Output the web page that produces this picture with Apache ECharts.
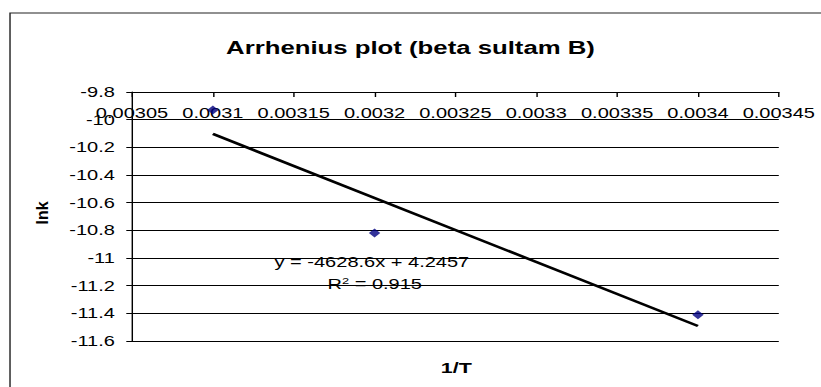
<!DOCTYPE html>
<html>
<head>
<meta charset="utf-8">
<script src="https://cdn.jsdelivr.net/npm/echarts@6/dist/echarts.min.js"></script>
<style>
  html, body { margin: 0; padding: 0; background: #fff; overflow: hidden; }
  #wrap { width: 821px; height: 387px; overflow: hidden; position: relative; }
  /* the chart is laid out narrow and widened, giving the broad lettering */
  #chart { width: 574px; height: 387px; transform: scaleX(1.4303); transform-origin: 0 0; }
</style>
</head>
<body>
<div id="wrap"><div id="chart"></div></div>
<script>
// measurements: reciprocal temperature and ln k
const invT = [0.0031, 0.0032, 0.0034];
const lnk = [-9.93, -10.82, -11.41];

// linear fit shown on the chart
const fitSlope = -4628.6;
const fitIntercept = 4.2457;
const fitR2 = 0.915;
const fitRange = [0.0031, 0.0034];

// axis scales
const xAxisRange = [0.00305, 0.00345];
const xStep = 0.00005;
const yAxisRange = [-11.6, -9.8];
const yStep = 0.2;

const STRETCH = 821 / 574;
const FONT = '"Liberation Sans", Arial, sans-serif';

const fitLine = fitRange.map(x => [x, fitSlope * x + fitIntercept]);
const points = invT.map((x, i) => [x, lnk[i]]);

const chart = echarts.init(document.getElementById('chart'), null, { renderer: 'svg' });

chart.setOption({
  animation: false,
  backgroundColor: '#fff',
  title: {
    text: 'Arrhenius plot (beta sultam B)',
    left: 'center',
    top: 34,
    textStyle: { fontFamily: FONT, fontSize: 18, fontWeight: 'bold', color: '#000' }
  },
  grid: { left: 92.3, right: 29.5, top: 92, bottom: 46, containLabel: false },
  xAxis: {
    type: 'value',
    position: 'top',
    min: xAxisRange[0],
    max: xAxisRange[1],
    interval: xStep,
    axisLine: { show: true, onZero: false, lineStyle: { color: '#000', width: 1 } },
    axisTick: { show: true, inside: true, length: 5, lineStyle: { color: '#000' } },
    axisLabel: {
      inside: true,
      margin: 14,
      fontFamily: FONT,
      fontSize: 14,
      color: '#000',
      formatter: v => String(Number(v.toPrecision(6)))
    },
    splitLine: { show: false }
  },
  yAxis: {
    type: 'value',
    min: yAxisRange[0],
    max: yAxisRange[1],
    interval: yStep,
    axisLine: { show: true, lineStyle: { color: '#000', width: 1 } },
    axisTick: { show: true, length: 4, lineStyle: { color: '#000' } },
    axisLabel: {
      margin: 12,
      fontFamily: FONT,
      fontSize: 14,
      color: '#000',
      formatter: v => String(Number(v.toFixed(1)))
    },
    splitLine: { show: true, lineStyle: { color: '#000', width: 1 } }
  },
  series: [
    {
      type: 'line',
      data: fitLine,
      showSymbol: false,
      silent: true,
      lineStyle: { color: '#000', width: 2.5 },
      z: 2
    },
    {
      type: 'scatter',
      data: points,
      symbol: 'diamond',
      symbolSize: [8, 9],
      itemStyle: { color: '#000080' },
      z: 3
    }
  ],
  graphic: [
    {
      type: 'rect',
      shape: { x: 7, y: 13, width: 800, height: 600 },
      style: { fill: 'none', stroke: '#222', lineWidth: 1 },
      silent: true
    },
    {
      type: 'text',
      x: 319, y: 368,
      style: {
        text: '1/T', align: 'center', verticalAlign: 'middle',
        font: 'bold 15px ' + FONT, fill: '#000'
      }
    },
    {
      type: 'text',
      x: 30, y: 213,
      rotation: Math.PI / 2,
      scaleY: 1 / STRETCH,
      style: {
        text: 'lnk', align: 'center', verticalAlign: 'middle',
        font: 'bold 16px ' + FONT, fill: '#000'
      }
    },
    {
      type: 'text',
      x: 260, y: 262,
      style: {
        text: 'y = ' + fitSlope + 'x + ' + fitIntercept,
        align: 'center', verticalAlign: 'middle',
        font: '14px ' + FONT, fill: '#000'
      }
    },
    {
      type: 'text',
      x: 262, y: 284,
      style: {
        text: '{n|R}{s|2}{n| = ' + fitR2 + '}',
        align: 'center', verticalAlign: 'middle',
        fill: '#000',
        rich: {
          n: { fontFamily: FONT, fontSize: 14, lineHeight: 16, color: '#000' },
          s: { fontFamily: FONT, fontSize: 9, lineHeight: 16, verticalAlign: 'top', color: '#000' }
        }
      }
    }
  ]
});
</script>
</body>
</html>
